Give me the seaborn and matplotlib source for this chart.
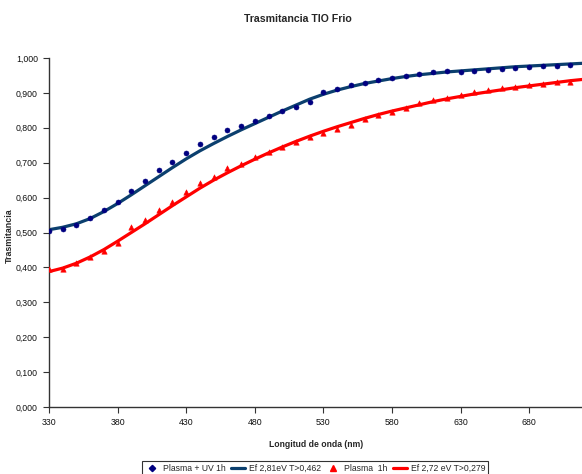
import matplotlib
matplotlib.use("Agg")
import matplotlib.pyplot as plt
from matplotlib.lines import Line2D
from matplotlib.ticker import FuncFormatter
import seaborn as sns
import pandas as pd

# Measured transmittance (sampled every 10 nm)
wl_measured = [330, 340, 350, 360, 370, 380, 390, 400, 410, 420,
               430, 440, 450, 460, 470, 480, 490, 500, 510, 520,
               530, 540, 550, 560, 570, 580, 590, 600, 610, 620,
               630, 640, 650, 660, 670, 680, 690, 700, 710]
t_plasma_uv = [0.505, 0.509, 0.521, 0.542, 0.564, 0.586, 0.620, 0.648, 0.679, 0.703,
               0.729, 0.754, 0.775, 0.794, 0.806, 0.820, 0.835, 0.848, 0.860, 0.873,
               0.902, 0.912, 0.923, 0.929, 0.938, 0.944, 0.949, 0.955, 0.959, 0.962,
               0.959, 0.963, 0.967, 0.968, 0.972, 0.975, 0.977, 0.978, 0.980]
t_plasma = [0.395, 0.395, 0.412, 0.429, 0.448, 0.469, 0.517, 0.536, 0.564, 0.588,
            0.615, 0.641, 0.660, 0.684, 0.696, 0.715, 0.730, 0.744, 0.760, 0.775,
            0.784, 0.797, 0.808, 0.824, 0.837, 0.846, 0.858, 0.870, 0.879, 0.885,
            0.893, 0.904, 0.908, 0.913, 0.918, 0.923, 0.925, 0.930, 0.932]

# Fitted curves
wl_fit = [330, 340, 350, 360, 370, 380, 390, 400, 410, 420,
          430, 440, 450, 460, 470, 480, 490, 500, 510, 520,
          530, 540, 550, 560, 570, 580, 590, 600, 610, 620,
          630, 640, 650, 660, 670, 680, 690, 700, 710, 720]
fit_281 = [0.508, 0.515, 0.525, 0.540, 0.560, 0.583, 0.608, 0.634, 0.660, 0.686,
           0.711, 0.734, 0.755, 0.775, 0.794, 0.812, 0.830, 0.848, 0.865, 0.882,
           0.896, 0.908, 0.918, 0.927, 0.934, 0.941, 0.947, 0.952, 0.956, 0.960,
           0.963, 0.966, 0.969, 0.972, 0.975, 0.977, 0.979, 0.981, 0.983, 0.985]
fit_272 = [0.388, 0.398, 0.412, 0.430, 0.451, 0.475, 0.500, 0.525, 0.551, 0.577,
           0.602, 0.627, 0.650, 0.671, 0.691, 0.710, 0.728, 0.745, 0.761, 0.776,
           0.790, 0.803, 0.815, 0.827, 0.838, 0.848, 0.857, 0.866, 0.875, 0.883,
           0.890, 0.897, 0.903, 0.909, 0.915, 0.920, 0.925, 0.930, 0.935, 0.939]

legend_labels = ["Plasma + UV 1h", "Ef 2,81eV T>0,462", "Plasma  1h", "Ef 2,72 eV T>0,279"]
x_ticks = [330, 380, 430, 480, 530, 580, 630, 680]
y_ticks = [0.0, 0.1, 0.2, 0.3, 0.4, 0.5, 0.6, 0.7, 0.8, 0.9, 1.0]

navy = "#000080"
dark_blue = "#0b3f6e"
red = "#ff0000"

sns.set_style("ticks")
plt.rcParams["font.family"] = ["Liberation Sans", "DejaVu Sans"]

meas = pd.DataFrame({"wl": wl_measured, "uv": t_plasma_uv, "pl": t_plasma})
fit = pd.DataFrame({"wl": wl_fit, "f281": fit_281, "f272": fit_272})

fig = plt.figure(figsize=(5.82, 4.74), dpi=100)
ax = fig.add_axes([49 / 582, 1 - 407 / 474, 1 - 49 / 582, (407 - 58) / 474])

sns.lineplot(data=fit, x="wl", y="f281", ax=ax, color=dark_blue, linewidth=2.3, zorder=2)
sns.lineplot(data=fit, x="wl", y="f272", ax=ax, color=red, linewidth=2.3, zorder=2)
sns.scatterplot(data=meas, x="wl", y="uv", ax=ax, marker="o", s=13, color=navy,
                edgecolor=navy, linewidth=0.4, zorder=3)
sns.scatterplot(data=meas, x="wl", y="pl", ax=ax, marker="^", s=15, color=red,
                edgecolor=red, linewidth=0.4, zorder=3)

ax.set_xlim(330, 718.5)
ax.set_ylim(0, 1.0)
ax.set_xticks(x_ticks)
ax.set_yticks(y_ticks)
ax.yaxis.set_major_formatter(FuncFormatter(lambda v, p: f"{v:.3f}".replace(".", ",")))
ax.tick_params(axis="both", labelsize=6.3, length=4, width=0.8, color="#333333",
               labelcolor="#111111", direction="out", pad=4)
for side in ("top", "right"):
    ax.spines[side].set_visible(False)
for side in ("left", "bottom"):
    ax.spines[side].set_color("#333333")
    ax.spines[side].set_linewidth(1.0)

ax.set_xlabel("Longitud de onda (nm)", fontsize=6.2, fontweight="bold")
ax.set_ylabel("Trasmitancia", fontsize=6.4, fontweight="bold")
ax.xaxis.set_label_coords((316 - 49) / (582 - 49), -(440 - 407) / (407 - 58))
ax.yaxis.set_label_coords(-(49 - 14) / (582 - 49), 0.49)

fig.text(298 / 582, 1 - 19 / 474, "Trasmitancia TIO Frio", ha="center", va="center",
         fontsize=7.6, fontweight="bold")

handles = [
    Line2D([], [], linestyle="none", marker="D", markersize=3.2, color=navy),
    Line2D([], [], color=dark_blue, linewidth=2.3),
    Line2D([], [], linestyle="none", marker="^", markersize=4, color=red),
    Line2D([], [], color=red, linewidth=2.3),
]
leg = fig.legend(handles, legend_labels, loc="upper center",
                 bbox_to_anchor=(315 / 582, 1 - 461 / 474), ncol=4, fontsize=6.2,
                 frameon=True, fancybox=False, edgecolor="black", handlelength=1.7,
                 handletextpad=0.4, columnspacing=0.6, borderpad=0.3, borderaxespad=0)
leg.get_frame().set_linewidth(0.8)

fig.savefig("out.png", dpi=100)
